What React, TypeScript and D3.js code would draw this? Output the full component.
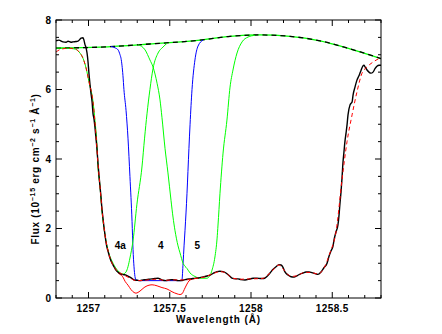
import React from "react";
import * as d3 from "d3";

// [wavelength (Å), flux] pairs
const observed: [number, number][] = [
  [1256.8, 7.4], [1256.818, 7.42], [1256.843, 7.37], [1256.862, 7.36], [1256.874, 7.39],
  [1256.892, 7.36], [1256.905, 7.37], [1256.923, 7.38], [1256.935, 7.39], [1256.948, 7.45],
  [1256.954, 7.48], [1256.966, 7.49], [1256.972, 7.42], [1256.978, 7.3], [1256.985, 7.2],
  [1256.991, 7.05], [1256.997, 6.8], [1257.003, 6.45], [1257.009, 6.15], [1257.015, 5.9],
  [1257.022, 5.65], [1257.028, 5.3], [1257.034, 5.15], [1257.04, 4.9], [1257.046, 4.6],
  [1257.052, 4.3], [1257.058, 3.9], [1257.065, 3.5], [1257.071, 3.2], [1257.077, 2.9],
  [1257.083, 2.55], [1257.089, 2.3], [1257.095, 2.05], [1257.102, 1.8], [1257.108, 1.6],
  [1257.114, 1.45], [1257.12, 1.35], [1257.132, 1.15], [1257.145, 1.0], [1257.157, 0.9],
  [1257.169, 0.8], [1257.182, 0.74], [1257.194, 0.7], [1257.206, 0.68], [1257.218, 0.67],
  [1257.231, 0.66], [1257.243, 0.63], [1257.255, 0.6], [1257.268, 0.56], [1257.28, 0.52],
  [1257.298, 0.51], [1257.317, 0.5], [1257.335, 0.52], [1257.354, 0.53], [1257.372, 0.54],
  [1257.391, 0.55], [1257.409, 0.56], [1257.428, 0.57], [1257.44, 0.55], [1257.458, 0.51],
  [1257.477, 0.5], [1257.495, 0.52], [1257.514, 0.53], [1257.532, 0.52], [1257.551, 0.5],
  [1257.569, 0.5], [1257.588, 0.52], [1257.606, 0.54], [1257.625, 0.55], [1257.643, 0.56],
  [1257.662, 0.57], [1257.68, 0.58], [1257.698, 0.6], [1257.717, 0.62], [1257.735, 0.64],
  [1257.754, 0.67], [1257.772, 0.72], [1257.791, 0.76], [1257.809, 0.77], [1257.828, 0.76],
  [1257.846, 0.72], [1257.865, 0.65], [1257.883, 0.57], [1257.902, 0.55], [1257.92, 0.55],
  [1257.938, 0.53], [1257.963, 0.52], [1257.988, 0.54], [1258.012, 0.57], [1258.037, 0.57],
  [1258.062, 0.56], [1258.08, 0.56], [1258.098, 0.62], [1258.117, 0.72], [1258.135, 0.82],
  [1258.154, 0.9], [1258.172, 0.96], [1258.185, 0.95], [1258.197, 0.88], [1258.209, 0.75],
  [1258.228, 0.66], [1258.246, 0.61], [1258.265, 0.6], [1258.283, 0.64], [1258.302, 0.69],
  [1258.32, 0.72], [1258.338, 0.75], [1258.357, 0.75], [1258.375, 0.73], [1258.394, 0.7],
  [1258.412, 0.68], [1258.431, 0.75], [1258.449, 0.87], [1258.468, 1.0], [1258.48, 1.2],
  [1258.492, 1.35], [1258.505, 1.5], [1258.511, 1.67], [1258.523, 1.9], [1258.535, 2.1],
  [1258.542, 2.4], [1258.548, 2.75], [1258.554, 3.05], [1258.56, 3.45], [1258.566, 3.9],
  [1258.572, 4.2], [1258.578, 4.5], [1258.585, 4.75], [1258.591, 4.98], [1258.597, 5.27],
  [1258.609, 5.55], [1258.615, 5.6], [1258.622, 5.64], [1258.628, 5.84], [1258.64, 6.07],
  [1258.652, 6.27], [1258.665, 6.4], [1258.677, 6.55], [1258.689, 6.68], [1258.695, 6.7],
  [1258.702, 6.65], [1258.714, 6.56], [1258.726, 6.5], [1258.738, 6.47], [1258.751, 6.5],
  [1258.763, 6.6], [1258.775, 6.67], [1258.788, 6.7], [1258.8, 6.7],
];

const continuum: [number, number][] = [
  [1256.8, 7.19], [1257.071, 7.22], [1257.378, 7.31], [1257.686, 7.42], [1257.871, 7.53],
  [1258.055, 7.57], [1258.24, 7.53], [1258.425, 7.4], [1258.609, 7.17], [1258.8, 6.89],
];

const fitTotal: [number, number][] = [
  [1256.8, 7.08], [1256.831, 7.16], [1256.88, 7.19], [1256.923, 7.16], [1256.942, 7.08],
  [1256.966, 6.9], [1256.985, 6.62], [1257.003, 6.22], [1257.028, 5.64], [1257.046, 4.7],
  [1257.058, 3.9], [1257.071, 3.2], [1257.083, 2.55], [1257.095, 2.05], [1257.108, 1.62],
  [1257.12, 1.36], [1257.138, 1.08], [1257.157, 0.9], [1257.175, 0.78], [1257.194, 0.72],
  [1257.218, 0.66], [1257.243, 0.6], [1257.268, 0.54], [1257.292, 0.5], [1257.348, 0.51],
  [1257.409, 0.54], [1257.471, 0.51], [1257.532, 0.52], [1257.594, 0.52], [1257.655, 0.56],
  [1257.717, 0.61], [1257.766, 0.7], [1257.809, 0.76], [1257.846, 0.72], [1257.883, 0.58],
  [1257.932, 0.54], [1257.994, 0.55], [1258.068, 0.56], [1258.117, 0.72], [1258.172, 0.95],
  [1258.209, 0.77], [1258.246, 0.62], [1258.283, 0.64], [1258.332, 0.74], [1258.375, 0.73],
  [1258.412, 0.69], [1258.449, 0.86], [1258.486, 1.3], [1258.523, 1.9], [1258.56, 3.4],
  [1258.591, 4.5], [1258.622, 5.27], [1258.652, 5.93], [1258.683, 6.47], [1258.714, 6.65],
  [1258.751, 6.79], [1258.8, 6.92],
];

const comp4a: [number, number][] = [
  [1256.8, 7.19], [1256.862, 7.19], [1256.911, 7.17], [1256.942, 7.08], [1256.966, 6.9],
  [1256.985, 6.62], [1257.003, 6.22], [1257.028, 5.64], [1257.04, 5.1], [1257.052, 4.4],
  [1257.058, 3.8], [1257.071, 3.2], [1257.083, 2.5], [1257.102, 1.8], [1257.12, 1.38],
  [1257.151, 1.0], [1257.182, 0.78], [1257.212, 0.69], [1257.231, 0.75], [1257.243, 0.9],
  [1257.255, 1.15], [1257.274, 1.65], [1257.298, 2.7], [1257.329, 3.77], [1257.345, 4.6],
  [1257.36, 5.3], [1257.378, 6.0], [1257.397, 6.6], [1257.428, 7.05], [1257.458, 7.22],
  [1257.483, 7.33],
];

const comp4: [number, number][] = [
  [1257.138, 7.24], [1257.163, 7.2], [1257.182, 7.14], [1257.194, 7.0], [1257.2, 6.9],
  [1257.212, 6.4], [1257.218, 6.0], [1257.231, 5.4], [1257.243, 4.6], [1257.255, 3.5],
  [1257.268, 2.2], [1257.274, 1.4], [1257.28, 0.9], [1257.292, 0.52], [1257.317, 0.5],
  [1257.44, 0.5], [1257.569, 0.5], [1257.575, 0.52], [1257.582, 1.0], [1257.588, 1.5],
  [1257.594, 1.95], [1257.606, 3.0], [1257.618, 4.3], [1257.625, 5.0], [1257.637, 6.0],
  [1257.655, 6.85], [1257.674, 7.25], [1257.705, 7.42],
];

const comp5: [number, number][] = [
  [1257.305, 7.29], [1257.348, 7.14], [1257.378, 6.85], [1257.397, 6.65], [1257.422, 6.18],
  [1257.44, 5.7], [1257.452, 5.2], [1257.471, 4.3], [1257.489, 3.6], [1257.508, 2.8],
  [1257.52, 2.33], [1257.532, 1.95], [1257.551, 1.5], [1257.563, 1.3], [1257.582, 1.0],
  [1257.606, 0.85], [1257.625, 0.72], [1257.655, 0.62], [1257.686, 0.57], [1257.729, 0.57],
  [1257.748, 0.65], [1257.76, 0.8], [1257.778, 1.18], [1257.791, 1.7], [1257.797, 2.1],
  [1257.809, 3.0], [1257.828, 4.17], [1257.852, 5.12], [1257.871, 6.07], [1257.889, 6.56],
  [1257.914, 7.05], [1257.945, 7.37], [1257.982, 7.51], [1258.025, 7.56],
];

const fitIntrinsic: [number, number][] = [
  [1257.182, 0.72], [1257.194, 0.68], [1257.212, 0.6], [1257.225, 0.48], [1257.243, 0.37],
  [1257.262, 0.24], [1257.28, 0.16], [1257.292, 0.14], [1257.317, 0.2], [1257.342, 0.3],
  [1257.366, 0.36], [1257.391, 0.38], [1257.422, 0.35], [1257.452, 0.3], [1257.483, 0.26],
  [1257.514, 0.18], [1257.545, 0.12], [1257.563, 0.1], [1257.575, 0.12], [1257.594, 0.29],
  [1257.612, 0.45], [1257.625, 0.52], [1257.655, 0.56], [1257.68, 0.58],
];

const lineLabels: [string, number, number][] = [
  ["4a", 1257.195, 1.4],
  ["4", 1257.445, 1.4],
  ["5", 1257.67, 1.4],
];

const xMajor = [1257, 1257.5, 1258, 1258.5];
const yMajor = [0, 2, 4, 6, 8];

const W = 442;
const H = 334;
const m = { left: 56, right: 61, top: 20, bottom: 36 };
const font = "'Liberation Sans', Arial, sans-serif";

export default function App() {
  const x = d3.scaleLinear().domain([1256.8, 1258.8]).range([m.left, W - m.right]);
  const y = d3.scaleLinear().domain([0, 8]).range([H - m.bottom, m.top]);
  const [x0, x1] = x.range();
  const [y0, y1] = y.range();

  const smooth = d3.line<[number, number]>().x((d) => x(d[0])).y((d) => y(d[1])).curve(d3.curveMonotoneX);

  const xMinor = d3.range(0, 21).map((i) => 1256.8 + i * 0.1);
  const yMinor = d3.range(0, 17).map((i) => i * 0.5);

  return (
    <svg width={W} height={H} style={{ position: "absolute", left: 0, top: 0 }}>
      <rect width={W} height={H} fill="#fff" />
      <defs>
        <clipPath id="plot">
          <rect x={x0} y={y1} width={x1 - x0} height={y0 - y1} />
        </clipPath>
      </defs>

      <g clipPath="url(#plot)" fill="none">
        <path d={smooth(continuum)!} stroke="#00ff00" strokeWidth={1.3} />
        <path d={smooth(continuum)!} stroke="#000" strokeWidth={1.3} strokeDasharray="5,4" />
        <path d={smooth(comp4)!} stroke="#0000ff" strokeWidth={1} />
        <path d={smooth(comp4a)!} stroke="#00ff00" strokeWidth={1} />
        <path d={smooth(comp5)!} stroke="#00ff00" strokeWidth={1} />
        <path d={smooth(fitIntrinsic)!} stroke="#ff0000" strokeWidth={1} />
        <path d={smooth(observed)!} stroke="#000" strokeWidth={1.4} />
        <path d={smooth(fitTotal)!} stroke="#ff0000" strokeWidth={1} strokeDasharray="4,3" />
      </g>

      {/* frame and ticks */}
      <rect x={x0} y={y1} width={x1 - x0} height={y0 - y1} fill="none" stroke="#000" strokeWidth={1} />
      <g stroke="#000" strokeWidth={1}>
        {xMinor.map((v, i) => {
          const major = xMajor.some((t) => Math.abs(t - v) < 1e-6);
          const len = major ? 6 : 3;
          return (
            <g key={"xt" + i}>
              <line x1={x(v)} x2={x(v)} y1={y0} y2={y0 - len} />
              <line x1={x(v)} x2={x(v)} y1={y1} y2={y1 + len} />
            </g>
          );
        })}
        {yMinor.map((v, i) => {
          const len = v % 2 === 0 ? 6 : 3;
          return (
            <g key={"yt" + i}>
              <line x1={x0} x2={x0 + len} y1={y(v)} y2={y(v)} />
              <line x1={x1} x2={x1 - len} y1={y(v)} y2={y(v)} />
            </g>
          );
        })}
      </g>

      <g fontFamily={font} fontSize={10} fontWeight="bold" fill="#000">
        {xMajor.map((v) => (
          <text key={"xl" + v} x={x(v)} y={y0 + 14} textAnchor="middle" letterSpacing={0.4}>
            {v}
          </text>
        ))}
        {yMajor.map((v) => (
          <text key={"yl" + v} x={x0 - 5} y={y(v) + 3.5} textAnchor="end">
            {v}
          </text>
        ))}
        {lineLabels.map(([t, w, f]) => (
          <text key={t} x={x(w)} y={y(f)} textAnchor="middle">
            {t}
          </text>
        ))}
        <text x={(x0 + x1) / 2} y={y0 + 25} textAnchor="middle" letterSpacing={0.9}>
          Wavelength (Å)
        </text>
        <text transform={`translate(39, ${(y0 + y1) / 2 + 10}) rotate(-90)`} textAnchor="middle" letterSpacing={0.7}>
          Flux (10
          <tspan fontSize={7} dy={-4}>−15</tspan>
          <tspan dy={4}> erg cm</tspan>
          <tspan fontSize={7} dy={-4}>−2</tspan>
          <tspan dy={4}> s</tspan>
          <tspan fontSize={7} dy={-4}>−1</tspan>
          <tspan dy={4}> Å</tspan>
          <tspan fontSize={7} dy={-4}>−1</tspan>
          <tspan dy={4}>)</tspan>
        </text>
      </g>
    </svg>
  );
}
